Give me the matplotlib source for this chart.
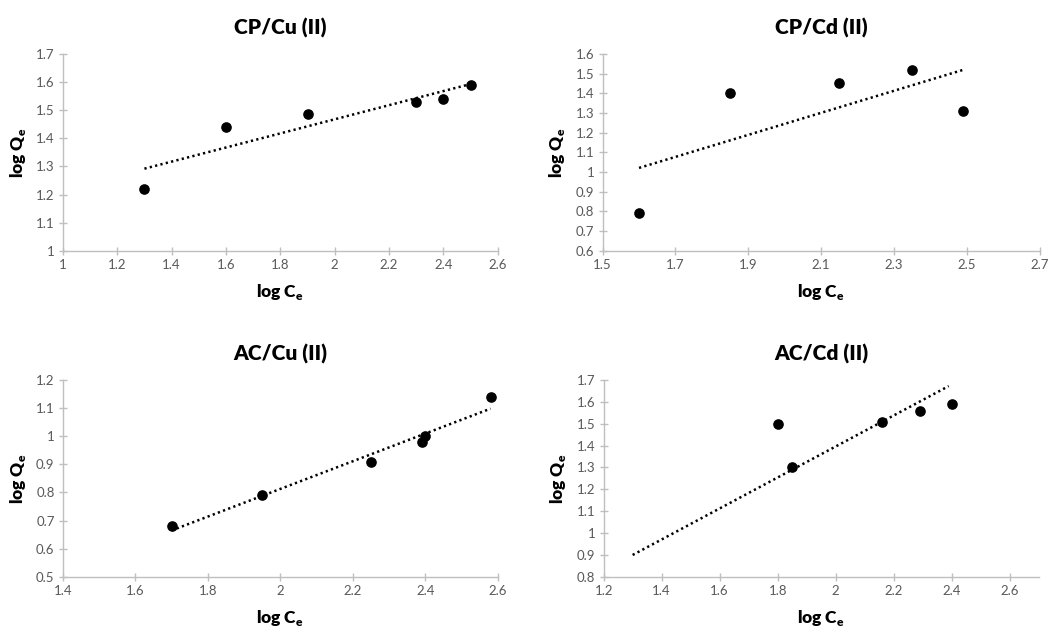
import numpy as np
import matplotlib
matplotlib.use("Agg")
from matplotlib import pyplot as plt

plt.rcParams['font.family'] = ['Lato', 'DejaVu Sans']

# 数据
titles = ["CP/Cu (II)", "CP/Cd (II)", "AC/Cu (II)", "AC/Cd (II)"]

cpcu_x = [1.3, 1.6, 1.9, 2.3, 2.4, 2.5]
cpcu_y = [1.22, 1.44, 1.485, 1.53, 1.54, 1.59]
cpcu_trend_x = [1.3, 2.5]
cpcu_trend_y = [1.292, 1.593]

cpcd_x = [1.6, 1.85, 2.15, 2.35, 2.49]
cpcd_y = [0.79, 1.40, 1.45, 1.52, 1.31]
cpcd_trend_x = [1.6, 2.49]
cpcd_trend_y = [1.021, 1.519]

accu_x = [1.70, 1.95, 2.25, 2.39, 2.40, 2.58]
accu_y = [0.68, 0.79, 0.91, 0.98, 1.00, 1.14]
accu_trend_x = [1.70, 2.58]
accu_trend_y = [0.665, 1.098]

accd_x = [1.80, 1.85, 2.16, 2.29, 2.40]
accd_y = [1.50, 1.30, 1.51, 1.56, 1.59]
accd_trend_x = [1.30, 2.39]
accd_trend_y = [0.90, 1.672]

panels = [
    (cpcu_x, cpcu_y, cpcu_trend_x, cpcu_trend_y),
    (cpcd_x, cpcd_y, cpcd_trend_x, cpcd_trend_y),
    (accu_x, accu_y, accu_trend_x, accu_trend_y),
    (accd_x, accd_y, accd_trend_x, accd_trend_y),
]

# axis limits / ticks
xlims = [(1.0, 2.6), (1.5, 2.7), (1.4, 2.6), (1.2, 2.7)]
xticks = [np.arange(1.0, 2.61, 0.2), np.arange(1.5, 2.71, 0.2),
          np.arange(1.4, 2.61, 0.2), np.arange(1.2, 2.61, 0.2)]
ylims = [(1.0, 1.7), (0.6, 1.6), (0.5, 1.2), (0.8, 1.7)]
ystep = 0.1

# 布局 (figure fractions)
boxes = [
    [0.060, 0.600, 0.415, 0.314],
    [0.575, 0.600, 0.417, 0.314],
    [0.060, 0.080, 0.415, 0.314],
    [0.576, 0.080, 0.415, 0.314],
]

fig = plt.figure(figsize=(10.48, 6.27), dpi=100)
grey = "#bfbfbf"
tick_col = "#595959"

def fmt(v):
    s = f"{v:.1f}"
    return s[:-2] if s.endswith(".0") else s

for i, (px, py, tx, ty) in enumerate(panels):
    ax = fig.add_axes(boxes[i])
    ax.scatter(px, py, s=44, color="black", zorder=3)
    ax.plot(tx, ty, color="black", lw=1.8, linestyle=(0, (0.9, 1.3)), zorder=2)

    ax.set_xlim(*xlims[i])
    ax.set_ylim(*ylims[i])
    xt = xticks[i]
    yt = np.arange(ylims[i][0], ylims[i][1] + 1e-6, ystep)
    ax.set_xticks(xt)
    ax.set_xticklabels([fmt(v) for v in xt])
    ax.set_yticks(yt)
    ax.set_yticklabels([fmt(v) for v in yt])

    for side in ["top", "right"]:
        ax.spines[side].set_visible(False)
    for side in ["left", "bottom"]:
        ax.spines[side].set_color(grey)
        ax.spines[side].set_linewidth(1.0)
    ax.tick_params(direction="inout", length=6, width=1.0, color=grey,
                   labelcolor=tick_col, labelsize=9.5, pad=3)

    ax.set_title(titles[i], fontsize=15, fontweight="heavy", pad=14)
    ax.set_xlabel(r"log C$_\mathregular{e}$", fontsize=12.5, fontweight="heavy", labelpad=8)
    ax.set_ylabel(r"log Q$_\mathregular{e}$", fontsize=12.5, fontweight="heavy", labelpad=6)

fig.savefig("out.png", dpi=100)
